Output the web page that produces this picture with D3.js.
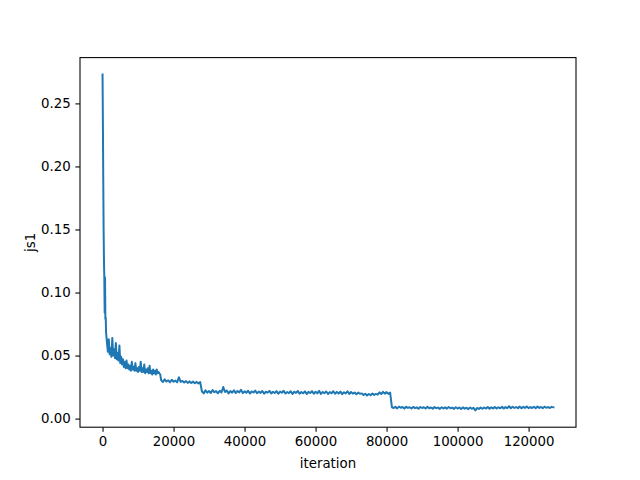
<!DOCTYPE html>
<html>
<head>
<meta charset="utf-8">
<script src="https://cdn.jsdelivr.net/npm/d3@7"></script>
<style>
  html, body { margin: 0; padding: 0; background: #fff; }
  svg { display: block; }
  text { font-family: "DejaVu Sans", sans-serif; }
</style>
</head>
<body>
<svg id="chart" width="640" height="480"></svg>
<script>
// ---- data ----
// Logged js1 values; each block lists readings at a fixed logging interval.
const iterStartA = 0,     iterStepA = 100;   // 0 .. 750
const js1A = [0.273, 0.235, 0.190, 0.150, 0.125, 0.112, 0.084, 0.112, 0.079, 0.080];

const iterStartB = 1000,  iterStepB = 250;   // 1000 .. 16250
const js1B = [
  0.068, 0.060, 0.053, 0.063, 0.051, 0.056, 0.049, 0.064, 0.050, 0.055,
  0.048, 0.060, 0.047, 0.052, 0.046, 0.058, 0.044, 0.049, 0.043, 0.047,
  0.041, 0.045, 0.040, 0.046, 0.040, 0.043, 0.039, 0.042, 0.038, 0.045,
  0.039, 0.041, 0.038, 0.044, 0.038, 0.040, 0.037, 0.041, 0.038, 0.045,
  0.037, 0.040, 0.037, 0.043, 0.036, 0.039, 0.037, 0.040, 0.036, 0.042,
  0.036, 0.038, 0.035, 0.039, 0.036, 0.038, 0.035, 0.039, 0.036, 0.037,
  0.036, 0.035
];

const iterStartC = 16500, iterStepC = 500;   // 16500 .. 81500
const js1C = [
  0.0305, 0.0290, 0.0312, 0.0294, 0.0303, 0.0288, 0.0308, 0.0292, 0.0301, 0.0287,
  0.0328, 0.0291, 0.0299, 0.0286, 0.0297, 0.0283, 0.0295, 0.0282, 0.0293, 0.0280,
  0.0291, 0.0279, 0.0289,
  0.0215, 0.0200, 0.0224, 0.0206, 0.0219, 0.0203, 0.0226, 0.0209, 0.0217, 0.0201,
  0.0220, 0.0207, 0.0250, 0.0211, 0.0222, 0.0200, 0.0218, 0.0206, 0.0224, 0.0203,
  0.0219, 0.0208, 0.0228, 0.0202, 0.0216, 0.0205, 0.0221, 0.0199, 0.0215, 0.0207,
  0.0222, 0.0201, 0.0214, 0.0204, 0.0219, 0.0198, 0.0213, 0.0206, 0.0220, 0.0200,
  0.0212, 0.0203, 0.0218, 0.0197, 0.0214, 0.0205, 0.0221, 0.0199, 0.0211, 0.0202,
  0.0217, 0.0196, 0.0213, 0.0204, 0.0219, 0.0198, 0.0210, 0.0201, 0.0216, 0.0195,
  0.0212, 0.0203, 0.0218, 0.0197, 0.0213, 0.0200, 0.0220, 0.0196, 0.0211, 0.0202,
  0.0215, 0.0195, 0.0210, 0.0201, 0.0217, 0.0197, 0.0212, 0.0199, 0.0214, 0.0194,
  0.0209, 0.0200, 0.0216, 0.0195, 0.0211, 0.0198, 0.0207, 0.0193, 0.0206, 0.0197,
  0.0200, 0.0187, 0.0197, 0.0184, 0.0195, 0.0186, 0.0199, 0.0188, 0.0196, 0.0190,
  0.0208, 0.0195, 0.0212, 0.0198, 0.0210, 0.0196, 0.0207,
  0.0090
];

const iterStartD = 82000, iterStepD = 500;   // 82000 .. 127000
const js1D = [
  0.0084, 0.0093, 0.0081, 0.0095, 0.0086, 0.0092, 0.0079, 0.0094, 0.0085, 0.0090,
  0.0080, 0.0093, 0.0083, 0.0089, 0.0078, 0.0092, 0.0084, 0.0090, 0.0080, 0.0094,
  0.0082, 0.0088, 0.0079, 0.0091, 0.0083, 0.0087, 0.0077, 0.0090, 0.0081, 0.0089,
  0.0079, 0.0092, 0.0082, 0.0087, 0.0077, 0.0090, 0.0080, 0.0088, 0.0076, 0.0089,
  0.0079, 0.0086, 0.0075, 0.0088, 0.0078, 0.0085, 0.0065, 0.0084, 0.0077, 0.0087,
  0.0078, 0.0088, 0.0080, 0.0091, 0.0079, 0.0089, 0.0081, 0.0092, 0.0080, 0.0090,
  0.0082, 0.0093, 0.0081, 0.0091, 0.0083, 0.0098, 0.0082, 0.0094, 0.0084, 0.0092,
  0.0083, 0.0095, 0.0082, 0.0093, 0.0085, 0.0096, 0.0083, 0.0091, 0.0084, 0.0094,
  0.0082, 0.0096, 0.0085, 0.0092, 0.0083, 0.0094, 0.0086, 0.0091, 0.0084, 0.0093,
  0.0089
];

const xTicks = [0, 20000, 40000, 60000, 80000, 100000, 120000];
const yTicks = [0.00, 0.05, 0.10, 0.15, 0.20, 0.25];
const xLabel = "iteration";
const yLabel = "js1";

(function () {
  const W = 640, H = 480;
  const mLeft = 80, mRight = 576, mTop = 57.6, mBottom = 427.2;

  const blocks = [
    [iterStartA, iterStepA, js1A],
    [iterStartB, iterStepB, js1B],
    [iterStartC, iterStepC, js1C],
    [iterStartD, iterStepD, js1D]
  ];
  const data = [];
  blocks.forEach(([s, st, vals]) => vals.forEach((v, i) => data.push({ x: s + i * st, y: v })));

  function padded(ext) {
    const r = ext[1] - ext[0];
    return [ext[0] - 0.05 * r, ext[1] + 0.05 * r];
  }

  const x = d3.scaleLinear().domain(padded(d3.extent(data, d => d.x))).range([mLeft, mRight]);
  const y = d3.scaleLinear().domain(padded(d3.extent(data, d => d.y))).range([mBottom, mTop]);

  const svg = d3.select("#chart");
  svg.append("rect").attr("width", W).attr("height", H).attr("fill", "#fff");

  svg.append("clipPath").attr("id", "clip")
    .append("rect").attr("x", mLeft).attr("y", mTop)
    .attr("width", mRight - mLeft).attr("height", mBottom - mTop);

  svg.append("path")
    .datum(data)
    .attr("clip-path", "url(#clip)")
    .attr("fill", "none")
    .attr("stroke", "#1f77b4")
    .attr("stroke-width", 2)
    .attr("stroke-linejoin", "round")
    .attr("stroke-linecap", "square")
    .attr("d", d3.line().x(d => x(d.x)).y(d => y(d.y)));

  const fontSize = 13.33;
  const xAxis = d3.axisBottom(x).tickValues(xTicks).tickFormat(d3.format("d"))
    .tickSizeInner(4.67).tickSizeOuter(0).tickPadding(4.67);
  const yAxis = d3.axisLeft(y).tickValues(yTicks).tickFormat(d3.format(".2f"))
    .tickSizeInner(4.67).tickSizeOuter(0).tickPadding(4.67);

  const gx = svg.append("g").attr("transform", `translate(0,${mBottom})`).call(xAxis);
  const gy = svg.append("g").attr("transform", `translate(${mLeft},0)`).call(yAxis);
  [gx, gy].forEach(g => {
    g.select(".domain").remove();
    g.selectAll(".tick line").attr("stroke", "#000").attr("stroke-width", 1.07);
    g.selectAll(".tick text").attr("fill", "#000")
      .style("font-family", "'DejaVu Sans', sans-serif").style("font-size", fontSize + "px");
  });

  svg.append("rect")
    .attr("x", mLeft).attr("y", mTop)
    .attr("width", mRight - mLeft).attr("height", mBottom - mTop)
    .attr("fill", "none").attr("stroke", "#000").attr("stroke-width", 1.07);

  svg.append("text")
    .attr("x", (mLeft + mRight) / 2).attr("y", 468)
    .attr("text-anchor", "middle")
    .style("font-size", fontSize + "px").attr("fill", "#000")
    .text(xLabel);

  svg.append("text")
    .attr("transform", `translate(35,${(mTop + mBottom) / 2}) rotate(-90)`)
    .attr("text-anchor", "middle")
    .style("font-size", fontSize + "px").attr("fill", "#000")
    .text(yLabel);
})();
</script>
</body>
</html>
